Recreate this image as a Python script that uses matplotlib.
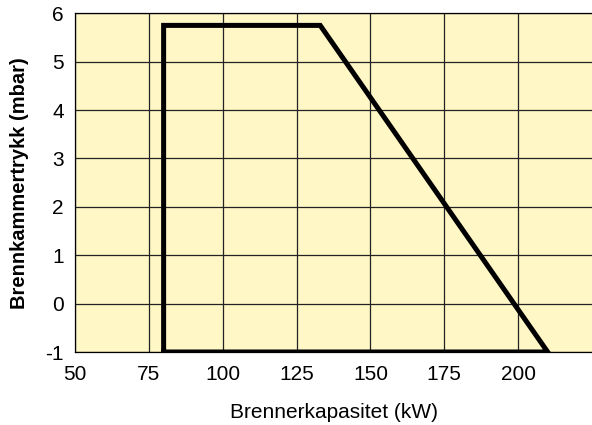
import matplotlib.pyplot as plt

plt.rcParams['font.family'] = ['Liberation Sans', 'DejaVu Sans']
plt.rcParams['axes.unicode_minus'] = False

# arbeidsomraade (kW, mbar)
kapasitet = [80, 80, 133, 210, 80]
trykk = [-1, 5.75, 5.75, -1, -1]

x_ticks = [50, 75, 100, 125, 150, 175, 200]
y_ticks = [-1, 0, 1, 2, 3, 4, 5, 6]

fig = plt.figure(figsize=(5.92, 4.25), dpi=100)
ax = fig.add_axes([75 / 592, 73 / 425, 1 - 75 / 592, (352 - 13.3) / 425])
ax.set_facecolor('#fff7c6')

ax.plot(kapasitet, trykk, color='black', lw=3.6, solid_joinstyle='miter', zorder=3)

ax.set_xlim(50, 225)
ax.set_ylim(-1, 6)
ax.set_xticks(x_ticks)
ax.set_yticks(y_ticks)
ax.grid(True, color='#222222', lw=0.9)
ax.set_axisbelow(True)
ax.tick_params(length=0, labelsize=15)
ax.tick_params(axis='x', pad=9)
ax.tick_params(axis='y', pad=8)
ax.spines['right'].set_visible(False)
for s in ['left', 'top', 'bottom']:
    ax.spines[s].set_linewidth(0.9)

ax.set_xlabel('Brennerkapasitet (kW)', fontsize=15, labelpad=14)
ax.set_ylabel('Brennkammertrykk (mbar)', fontsize=14.5, fontweight='bold', labelpad=12)

fig.savefig('out.png', dpi=100)
